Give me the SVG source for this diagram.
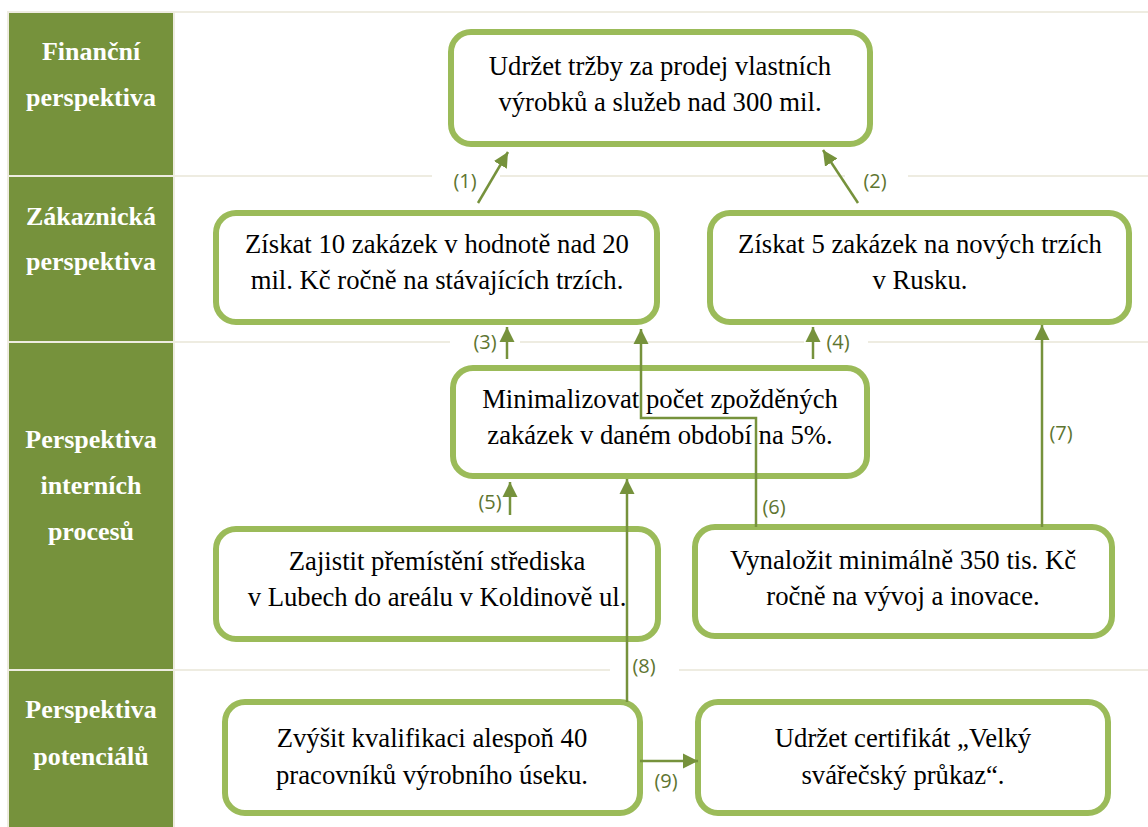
<svg xmlns="http://www.w3.org/2000/svg" width="1148" height="827" viewBox="0 0 1148 827">
  <style>
    .grid { stroke: #EEECE1; stroke-width: 2; fill: none; }
    .band { fill: #76923C; }
    .head { font-family: 'Liberation Serif', 'DejaVu Serif', serif; font-weight: bold; font-size: 26px; fill: #FFFFFF; text-anchor: middle; }
    .box { fill: #FFFFFF; stroke: #9BBB59; stroke-width: 6; }
    .txt { font-family: 'Liberation Serif', 'DejaVu Serif', serif; font-size: 26.7px; fill: #000000; text-anchor: middle; }
    .link { stroke: #76923C; stroke-width: 2.5; fill: none; }
    .tag { font-family: 'Open Sans', 'Liberation Sans', sans-serif; font-size: 20px; fill: #5E7530; text-anchor: middle; }
    .mask { fill: #FFFFFF; }
  </style>
  <defs>
    <marker id="arrow" markerUnits="userSpaceOnUse" markerWidth="16" markerHeight="16" viewBox="0 0 16 16" refX="15" refY="8" orient="auto">
      <path d="M0,0.5 L15,8 L0,15.5 Z" fill="#76923C"/>
    </marker>
  </defs>

  <rect width="1148" height="827" fill="#FFFFFF"/>

  <!-- perspective column -->
  <g id="perspectives">
    <rect class="band" x="9" y="12" width="164" height="815"/>
    <line class="grid" x1="8" y1="12" x2="1148" y2="12"/>
    <line class="grid" x1="8" y1="176" x2="1148" y2="176"/>
    <line class="grid" x1="8" y1="342" x2="1148" y2="342"/>
    <line class="grid" x1="8" y1="670" x2="1148" y2="670"/>
    <line class="grid" x1="8" y1="11" x2="8" y2="827"/>
    <line class="grid" x1="174" y1="11" x2="174" y2="827"/>
    <text class="head" x="91" y="60">Finanční</text>
    <text class="head" x="91" y="106">perspektiva</text>
    <text class="head" x="91" y="225">Zákaznická</text>
    <text class="head" x="91" y="270">perspektiva</text>
    <text class="head" x="91" y="448">Perspektiva</text>
    <text class="head" x="91" y="494">interních</text>
    <text class="head" x="91" y="540">procesů</text>
    <text class="head" x="91" y="718">Perspektiva</text>
    <text class="head" x="91" y="765">potenciálů</text>
  </g>

  <!-- label backgrounds breaking the row lines -->
  <g id="label-backs">
    <rect class="mask" x="432" y="168" width="68" height="16"/>
    <rect class="mask" x="845" y="168" width="63" height="16"/>
    <rect class="mask" x="450" y="334" width="70" height="16"/>
    <rect class="mask" x="804" y="334" width="64" height="16"/>
    <rect class="mask" x="610" y="662" width="69" height="16"/>
  </g>

  <g id="n-trzby">
    <rect class="box" x="451" y="32" width="419" height="112" rx="20"/>
    <text class="txt" x="660" y="75">Udržet tržby za prodej vlastních</text>
    <text class="txt" x="660" y="111">výrobků a služeb nad 300 mil.</text>
  </g>
  <g id="n-zakazky10">
    <rect class="box" x="216" y="213" width="441" height="109" rx="20"/>
    <text class="txt" x="437" y="253">Získat 10 zakázek v hodnotě nad 20</text>
    <text class="txt" x="437" y="289">mil. Kč ročně na stávajících trzích.</text>
  </g>
  <g id="n-rusko">
    <rect class="box" x="710" y="213" width="419" height="109" rx="20"/>
    <text class="txt" x="920" y="253">Získat 5 zakázek na nových trzích</text>
    <text class="txt" x="920" y="289">v Rusku.</text>
  </g>
  <g id="n-zpozdeni">
    <rect class="box" x="453" y="368" width="414" height="108" rx="20"/>
    <text class="txt" x="660" y="408">Minimalizovat počet zpožděných</text>
    <text class="txt" x="660" y="444">zakázek v daném období na 5%.</text>
  </g>
  <g id="n-stredisko">
    <rect class="box" x="216" y="529" width="442" height="110" rx="20"/>
    <text class="txt" x="437" y="570">Zajistit přemístění střediska</text>
    <text class="txt" x="437" y="606">v Lubech do areálu v Koldinově ul.</text>
  </g>
  <g id="n-vyvoj">
    <rect class="box" x="695" y="527" width="417" height="109" rx="20"/>
    <text class="txt" x="903" y="569">Vynaložit minimálně 350 tis. Kč</text>
    <text class="txt" x="903" y="605">ročně na vývoj a inovace.</text>
  </g>
  <g id="n-kvalifikace">
    <rect class="box" x="225" y="702" width="415" height="111" rx="20"/>
    <text class="txt" x="432" y="747">Zvýšit kvalifikaci alespoň 40</text>
    <text class="txt" x="432" y="784">pracovníků výrobního úseku.</text>
  </g>
  <g id="n-certifikat">
    <rect class="box" x="698" y="702" width="410" height="111" rx="20"/>
    <text class="txt" x="903" y="747">Udržet certifikát „Velký</text>
    <text class="txt" x="903" y="784">svářečský průkaz“.</text>
  </g>

  <g id="connectors">
    <line class="link" x1="478" y1="203" x2="508" y2="152" marker-end="url(#arrow)"/>
    <line class="link" x1="858" y1="203" x2="823" y2="150" marker-end="url(#arrow)"/>
    <line class="link" x1="507" y1="359" x2="507" y2="327" marker-end="url(#arrow)"/>
    <line class="link" x1="813" y1="359" x2="813" y2="327" marker-end="url(#arrow)"/>
    <line class="link" x1="510" y1="515" x2="510" y2="482" marker-end="url(#arrow)"/>
    <path class="link" d="M756,527 V418 H641 V329" marker-end="url(#arrow)"/>
    <line class="link" x1="1042" y1="527" x2="1042" y2="325" marker-end="url(#arrow)"/>
    <line class="link" x1="627" y1="702" x2="627" y2="479" marker-end="url(#arrow)"/>
    <line class="link" x1="640" y1="761" x2="698" y2="761" marker-end="url(#arrow)"/>
  </g>

  <g id="connector-labels">
    <text class="tag" x="465" y="188">(1)</text>
    <text class="tag" x="875" y="188">(2)</text>
    <text class="tag" x="485" y="349">(3)</text>
    <text class="tag" x="838" y="349">(4)</text>
    <text class="tag" x="490" y="509">(5)</text>
    <text class="tag" x="774" y="514">(6)</text>
    <text class="tag" x="1061" y="440">(7)</text>
    <text class="tag" x="644" y="673">(8)</text>
    <text class="tag" x="666" y="788">(9)</text>
  </g>
</svg>
